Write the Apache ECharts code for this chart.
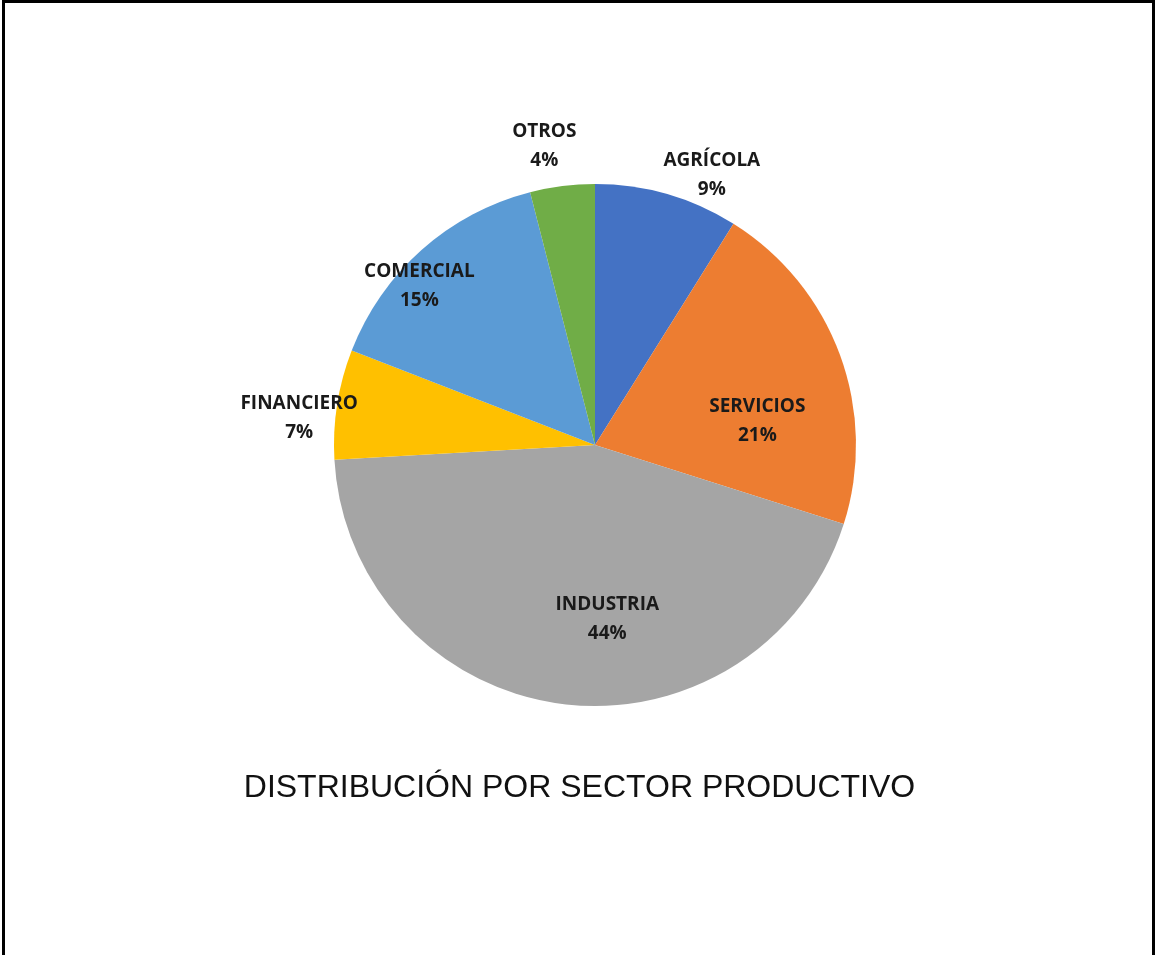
<!DOCTYPE html>
<html>
<head>
<meta charset="utf-8">
<script src="https://cdn.jsdelivr.net/npm/echarts@6/dist/echarts.min.js"></script>
<style>
html,body{margin:0;padding:0;background:#fff;}
#frame{position:absolute;left:2px;top:0;width:1153px;height:955px;border-left:3px solid #000;border-right:3px solid #000;border-top:3px solid #000;box-sizing:border-box;}
#chart{position:absolute;left:0;top:0;width:1159px;height:955px;}
</style>
</head>
<body>
<div id="chart"></div>
<div id="frame"></div>
<script>
var categories = ['AGRÍCOLA', 'SERVICIOS', 'INDUSTRIA', 'FINANCIERO', 'COMERCIAL', 'OTROS'];
var values = [8.9, 21.0, 44.2, 6.8, 15.1, 4.0];
var colors = ['#4472C4', '#ED7D31', '#A5A5A5', '#FFC000', '#5B9BD5', '#70AD47'];
var titleText = 'DISTRIBUCIÓN POR SECTOR PRODUCTIVO';

// label offsets (style) from default inside position
var labelShift = [[80, -142], [37, 22], [29, 42], [-164, -6], [-87, -59], [-34, -166]];

var chart = echarts.init(document.getElementById('chart'), null, {renderer: 'canvas'});
chart.setOption({
  backgroundColor: '#ffffff',
  animation: false,
  title: {
    text: titleText,
    left: 'center',
    top: 767,
    textStyle: {fontFamily: 'Liberation Sans, Arial, sans-serif', fontSize: 32, fontWeight: 'normal', color: '#111111'}
  },
  series: [{
    type: 'pie',
    center: [595, 445],
    radius: 261,
    startAngle: 90,
    clockwise: true,
    percentPrecision: 0,
    itemStyle: {borderWidth: 0},
    label: {
      show: true,
      position: 'inside',
      formatter: '{b}\n{d}%',
      fontFamily: 'Open Sans, sans-serif',
      fontWeight: 'bold',
      fontSize: 19,
      lineHeight: 29,
      color: '#1a1a1a',
      align: 'center'
    },
    labelLine: {show: false},
    labelLayout: function (p) {
      var s = labelShift[p.dataIndex];
      return {dx: s[0], dy: s[1]};
    },
    data: categories.map(function (c, i) {
      return {name: c, value: values[i], itemStyle: {color: colors[i]}};
    })
  }]
});
</script>
</body>
</html>
